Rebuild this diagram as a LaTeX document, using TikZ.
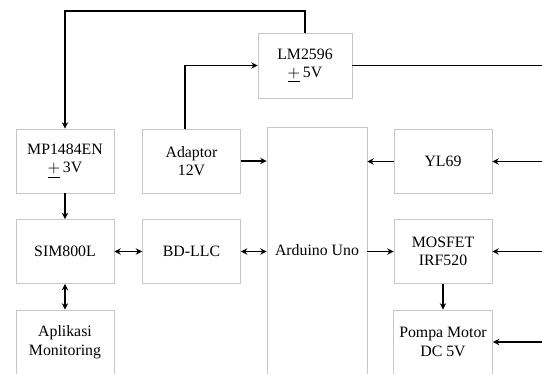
\documentclass[tikz,border=0pt]{standalone}
\usepackage{fontspec}
\setmainfont{Liberation Serif}
\usetikzlibrary{positioning,arrows.meta,calc}

\begin{document}
\begin{tikzpicture}[
        font=\fontsize{9}{10.5}\selectfont,
        >={Stealth[length=1.3mm, width=1.3mm]},
        blok/.style ={draw=gray!45, fill=white, minimum width=19.6mm,
                      minimum height=12.8mm, align=center},
        uno/.style  ={draw=gray!45, fill=white, minimum width=20mm,
                      minimum height=49.4mm, align=center},
        rd/.style   ={->, line width=0.9pt},
        bus2/.style ={<->, line width=0.9pt},
    ]
    \useasboundingbox (0,0) rectangle (10.84,-7.48);

    % ===================== Power =====================
    \node[blok, minimum width=18.8mm, minimum height=13mm] (lm) at (6.1,-1.31) {LM2596\\$\underline{+}$\,5V};
    \node[blok] (mp)  at (1.3,-3.22)  {MP1484EN\\$\underline{+}$\,3V};
    \node[blok] (adp) at (3.83,-3.22) {Adaptor\\12V};

    % ===================== Middle row =====================
    \node[blok] (sim) at (1.3,-5.03)  {SIM800L};
    \node[blok] (bd)  at (3.83,-5.03) {BD-LLC};
    \node[blok] (app) at (1.3,-6.84)  {Aplikasi\\Monitoring};

    % ===================== Controller =====================
    \node[uno] (ard) at (6.34,-5.01) {Arduino Uno};

    % ===================== Right side =====================
    \node[blok] (yl)   at (8.86,-3.23) {YL69};
    \node[blok] (mos)  at (8.86,-5.03) {MOSFET\\IRF520};
    \node[blok] (pump) at (8.86,-6.84) {Pompa Motor\\DC 5V};

    \coordinate (top) at (0,-0.22);
    \coordinate (E)   at (10.84,0);

    % ===================== Connections =====================
    \draw[rd] (lm.north) -- (lm |- top) -| (mp.north);
    \draw[rd] ([xshift=-1.3mm]adp.north) |- (lm.west);
    \draw[line width=0.9pt] (lm.east) -- (lm.east -| E);

    \draw[rd] (mp.south) -- (sim.north);
    \draw[bus2] (sim.south) -- (app.north);
    \draw[bus2] (sim.east) -- (bd.west);
    \draw[bus2] (bd.east) -- (bd.east -| ard.west);
    \draw[rd] (adp.east) -- (adp.east -| ard.west);

    \draw[rd] (yl.west) -- (yl.west -| ard.east);
    \draw[rd] (mos.west -| ard.east) -- (mos.west);
    \draw[rd] (mos.south) -- (pump.north);

    \foreach \n in {yl,mos,pump}{
        \draw[rd] (\n.east -| E) -- (\n.east);
    }
\end{tikzpicture}
\end{document}
